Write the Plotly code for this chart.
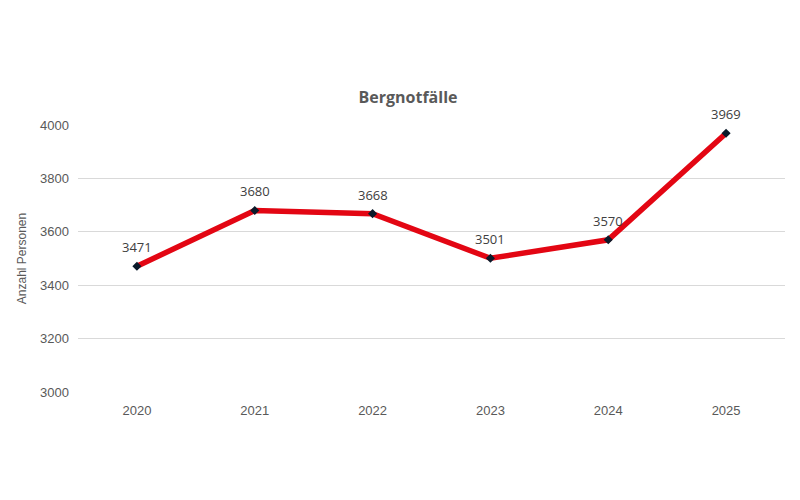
import plotly.graph_objects as go

years = ["2020", "2021", "2022", "2023", "2024", "2025"]
values = [3471, 3680, 3668, 3501, 3570, 3969]
y_ticks = [3000, 3200, 3400, 3600, 3800, 4000]

fig = go.Figure()
fig.add_trace(go.Scatter(
    x=years, y=values,
    mode="lines+markers",
    line=dict(color="#E30613", width=5.5),
    marker=dict(symbol="diamond", size=7, color="#0b1a2a"),
    cliponaxis=False,
    showlegend=False,
))
for i, v in enumerate(values):
    fig.add_annotation(x=i, y=v, xref="x", yref="y", text=str(v), showarrow=False,
                       yanchor="bottom", yshift=8,
                       font=dict(size=13, color="#404040", family="Open Sans, sans-serif"))

fig.update_layout(
    width=800, height=500,
    paper_bgcolor="white", plot_bgcolor="white",
    margin=dict(l=70, r=23, t=117, b=116, autoexpand=False),
    title=dict(text="<b>Bergnotfälle</b>", x=0.5, xanchor="center", y=0.822, yanchor="middle",
               font=dict(size=16, color="#595959", family="Open Sans, sans-serif")),
    font=dict(family="Liberation Sans, Arial, sans-serif", color="#595959", size=13),
)
fig.update_xaxes(type="category", range=[-0.5, 5.5], showgrid=False, showline=False, ticks="",
                 ticklabelstandoff=9,
                 tickfont=dict(size=13, color="#595959"))
fig.update_yaxes(range=[3000, 4000], tickvals=y_ticks, showgrid=True, gridcolor="#d9d9d9",
                 gridwidth=1, zeroline=False, showline=False, ticks="",
                 ticklabelstandoff=8,
                 tickfont=dict(size=13, color="#595959"),
                 title=dict(text="Anzahl Personen", font=dict(size=12, color="#595959"), standoff=10))

fig.write_html("out.html")
